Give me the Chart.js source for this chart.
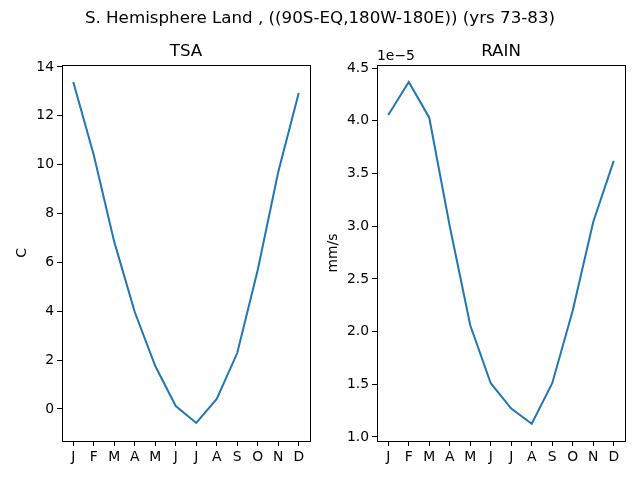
<!DOCTYPE html>
<html>
<head>
<meta charset="utf-8">
<script src="https://cdn.jsdelivr.net/npm/chart.js@4.4.0/dist/chart.umd.min.js"></script>
<style>
  body { margin: 0; background: #fff; }
  #wrap { position: relative; width: 640px; height: 480px; }
  canvas { position: absolute; top: 0; }
  #sup { position: absolute; top: 7px; left: 0; width: 640px; text-align: center;
         font: 16.7px "DejaVu Sans", sans-serif; color: #000; z-index: 2; }
</style>
</head>
<body>
<div id="wrap">
  <div id="sup">S. Hemisphere Land , ((90S-EQ,180W-180E)) (yrs 73-83)</div>
  <canvas id="tsa" width="320" height="480" style="left:0"></canvas>
  <canvas id="rain" width="320" height="480" style="left:320px"></canvas>
</div>
<script>
const months = ["J", "F", "M", "A", "M", "J", "J", "A", "S", "O", "N", "D"];
const tsa = [13.38, 10.4, 6.84, 3.97, 1.76, 0.12, -0.57, 0.41, 2.29, 5.69, 9.7, 12.93];
const rain = [4.055e-5, 4.368e-5, 4.03e-5, 3.0e-5, 2.06e-5, 1.51e-5, 1.27e-5, 1.125e-5, 1.51e-5, 2.2e-5, 3.04e-5, 3.62e-5];
const tsaTicks = [0, 2, 4, 6, 8, 10, 12, 14];
const rainTicks = [1.0e-5, 1.5e-5, 2.0e-5, 2.5e-5, 3.0e-5, 3.5e-5, 4.0e-5, 4.5e-5];

const FONT = "DejaVu Sans";
Chart.defaults.font.family = FONT;
Chart.defaults.color = "#000";

// black box round the plot area (matplotlib spines), subplot title and offset text
const framePlugin = {
  id: "frame",
  afterDraw(chart) {
    const a = chart.chartArea, ctx = chart.ctx;
    const opts = chart.options.plugins.frame;
    ctx.save();
    ctx.strokeStyle = "#000";
    ctx.lineWidth = 1;
    ctx.strokeRect(Math.round(a.left) + 0.5, Math.round(a.top) + 0.5,
      Math.round(a.right - a.left), Math.round(a.bottom - a.top));
    ctx.fillStyle = "#000";
    ctx.font = "16.7px " + FONT;
    ctx.textAlign = "center";
    ctx.textBaseline = "middle";
    ctx.fillText(opts.title, (a.left + a.right) / 2, a.top - 13);
    if (opts.offsetText) {
      ctx.font = "13.9px " + FONT;
      ctx.textAlign = "left";
      ctx.fillText(opts.offsetText, a.left, a.top - 9);
    }
    ctx.restore();
  }
};

function makeChart(id, values, ticks, yMin, yMax, yLabel, title, yWidth, rightPad, labelPad, fmt, offsetText) {
  return new Chart(document.getElementById(id), {
    type: "line",
    data: {
      datasets: [{
        data: values.map((v, i) => ({ x: i, y: v })),
        borderColor: "#1f77b4",
        borderWidth: 2,
        pointRadius: 0,
        tension: 0,
        fill: false
      }]
    },
    options: {
      responsive: false,
      animation: false,
      devicePixelRatio: 1,
      layout: { padding: { left: 0, right: rightPad, top: 65, bottom: 0 } },
      plugins: {
        legend: { display: false },
        tooltip: { enabled: false },
        title: { display: false },
        frame: { title: title, offsetText: offsetText }
      },
      scales: {
        x: {
          type: "linear",
          min: -0.55,
          max: 11.55,
          afterBuildTicks(s) { s.ticks = months.map((m, i) => ({ value: i })); },
          afterFit(s) { s.height = 39; },
          ticks: {
            autoSkip: false,
            maxRotation: 0,
            padding: 3,
            font: { size: 13.9 },
            callback: (v) => months[v]
          },
          grid: { drawOnChartArea: false, drawTicks: true, tickLength: 5, tickColor: "#000" },
          border: { display: true, color: "#000" }
        },
        y: {
          min: yMin,
          max: yMax,
          afterBuildTicks(s) { s.ticks = ticks.map((t) => ({ value: t })); },
          afterFit(s) { s.width = yWidth; },
          ticks: { padding: 3, font: { size: 13.9 }, callback: fmt },
          title: { display: true, text: yLabel, font: { size: 13.9 }, color: "#000", padding: { top: labelPad, bottom: 0 } },
          grid: { drawOnChartArea: false, drawTicks: true, tickLength: 5, tickColor: "#000" },
          border: { display: true, color: "#000" }
        }
      }
    },
    plugins: [framePlugin]
  });
}

makeChart("tsa", tsa, tsaTicks, -1.31, 14.08, "C", "TSA", 62, 10, 14, (v) => String(v), null);
makeChart("rain", rain, rainTicks, 0.962e-5, 4.53e-5, "mm/s", "RAIN", 57, 15, 5,
  (v) => (v / 1e-5).toFixed(1), "1e\u22125");
</script>
</body>
</html>
